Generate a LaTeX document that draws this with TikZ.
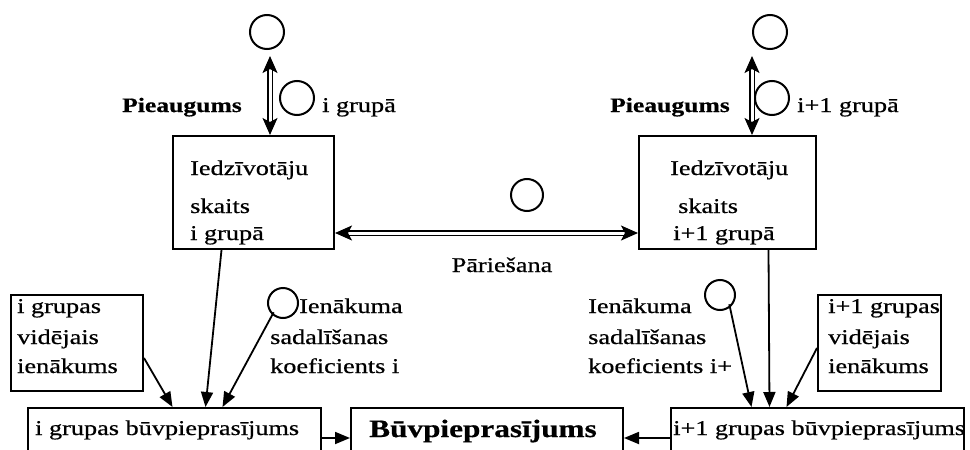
\documentclass[tikz,border=0pt]{standalone}
\usepackage{fontspec}
\setmainfont{Liberation Serif}[FakeStretch=1.25,FakeBold=0.6]
\usetikzlibrary{arrows.meta}
\begin{document}
\begin{tikzpicture}[x=1pt,y=-1pt,
  txt/.style={font=\fontsize{21}{26}\selectfont, inner sep=0pt},
  btxt/.style={font=\fontsize{20.5}{24}\selectfont\bfseries, inner sep=0pt},
  box/.style={draw, line width=2pt, inner sep=0pt, anchor=north west},
  circ/.style={draw, circle, line width=2pt, inner sep=0pt, minimum size=#1},
  circ/.default=34pt,
  arr/.style={line width=1.8pt, -{Triangle[length=15pt,width=12pt]}},
  dbl/.style={double distance=3pt, line width=1.5pt,
     {Stealth[length=17pt,width=15pt,inset=4pt]}-{Stealth[length=17pt,width=15pt,inset=4pt]}}]
\useasboundingbox (0,0) rectangle (970,450);
\clip (0,0) rectangle (970,450);

% circles
\node[circ] (ctL) at (267,32) {};
\node[circ] (ctR) at (770,32) {};
\node[circ] (csL) at (297,98) {};
\node[circ] (csR) at (772,98) {};
\node[circ=32pt] (cm) at (527,195) {};
\node[circ=30pt] (k1) at (283,303) {};
\node[circ=30pt] (k2) at (720,295) {};

% boxes
\node[box, minimum width=161pt, minimum height=113pt] (L) at (172,135) {};
\node[box, minimum width=177pt, minimum height=113pt] (R) at (638,135) {};
\node[box, minimum width=132pt, minimum height=96pt] (V1) at (10,294) {};
\node[box, minimum width=123pt, minimum height=96pt] (V2) at (817,294) {};
\node[box, minimum width=293pt, minimum height=60pt] (BL) at (27,407) {};
\node[box, minimum width=272pt, minimum height=60pt] (M) at (350,407) {};
\node[box, minimum width=293pt, minimum height=60pt] (BR) at (670,407) {};

% texts
\node[btxt, anchor=base west] (pL) at (122,112) {Pieaugums};
\node[txt, anchor=base west] (gL) at (322,112) {i grupā};
\node[btxt, anchor=base west] (pR) at (610,112) {Pieaugums};
\node[txt, anchor=base west] (gR) at (797,112) {i+1 grupā};

\node[txt, anchor=base west] (L1) at (190,175) {Iedzīvotāju};
\node[txt, anchor=base west] (L2) at (190,213) {skaits};
\node[txt, anchor=base west] (L3) at (190,240) {i grupā};
\node[txt, anchor=base west] (R1) at (670,175) {Iedzīvotāju};
\node[txt, anchor=base west] (R2) at (678,213) {skaits};
\node[txt, anchor=base west] (R3) at (673,240) {i+1 grupā};

\node[txt, anchor=base] (par) at (502,272) {Pāriešana};

\node[txt, anchor=base west] (V11) at (17,313) {i grupas};
\node[txt, anchor=base west] (V12) at (17,344) {vidējais};
\node[txt, anchor=base west] (V13) at (17,373) {ienākums};
\node[txt, anchor=base west] (V21) at (828,313) {i+1 grupas};
\node[txt, anchor=base west] (V22) at (828,344) {vidējais};
\node[txt, anchor=base west] (V23) at (828,373) {ienākums};

\node[txt, anchor=base west] (I11) at (299,313) {Ienākuma};
\node[txt, anchor=base west] (I12) at (270,344) {sadalīšanas};
\node[txt, anchor=base west] (I13) at (270,373) {koeficients i};
\node[txt, anchor=base west] (I21) at (588,313) {Ienākuma};
\node[txt, anchor=base west] (I22) at (588,344) {sadalīšanas};
\node[txt, anchor=base west] (I23) at (588,373) {koeficients i+};

\node[txt, anchor=base west] (BLt) at (35,435) {i grupas būvpieprasījums};
\node[font=\fontsize{25}{30}\selectfont\bfseries, inner sep=0pt, anchor=base] (Mt) at (483,437) {Būvpieprasījums};
\node[txt, anchor=base west] (BRt) at (673,435) {i+1 grupas būvpieprasījums};

% double arrows
\draw[dbl] ([xshift=3pt]ctL.south) ++(0,6) -- ([xshift=3pt]ctL.south |- L.north);
\draw[dbl] ([xshift=-18pt]ctR.south) ++(0,6) -- ([xshift=-18pt]ctR.south |- R.north);
\draw[dbl] (L.east |- 0,233) -- (R.west |- 0,233);

% single arrows
\draw[arr] ([xshift=-32pt]L.south) -- ([xshift=31pt]BL.north);
\draw[arr] ([yshift=-15pt]V1.east) -- ([xshift=-2pt]BL.north);
\draw[arr] (k1.south west) ++(2,-2) -- ([xshift=48pt]BL.north);
\draw[arr] ([xshift=41pt]R.south) -- ([xshift=-48pt]BR.north);
\draw[arr] (k2.south east) ++(-2,-2) -- ([xshift=-66pt]BR.north);
\draw[arr] ([yshift=-5pt]V2.west) -- ([xshift=-31pt]BR.north);
\draw[arr] (BL.east) -- (M.west);
\draw[arr] (BR.west) -- (M.east);
\end{tikzpicture}
\end{document}
